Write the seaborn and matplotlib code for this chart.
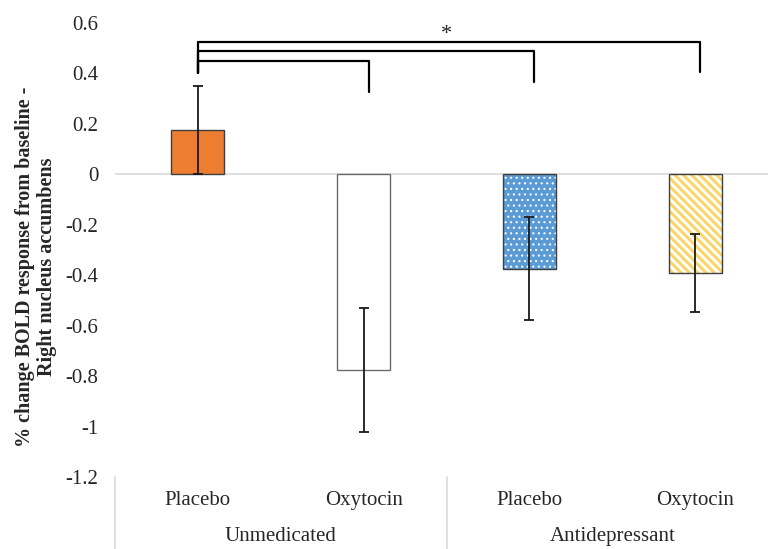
import pandas as pd
import seaborn as sns
import matplotlib.pyplot as plt
from matplotlib.patches import Rectangle
import matplotlib.transforms as mtransforms

# data
groups = ["Unmedicated", "Unmedicated", "Antidepressant", "Antidepressant"]
drugs = ["Placebo", "Oxytocin", "Placebo", "Oxytocin"]
means = [0.175, -0.776, -0.374, -0.392]
errors = [0.175, 0.245, 0.205, 0.155]
y_ticks = [0.6, 0.4, 0.2, 0, -0.2, -0.4, -0.6, -0.8, -1, -1.2]
y_label = "% change BOLD response from baseline -\nRight nucleus accumbens"

# significance brackets: (from bar, to bar, bracket height, leg bottom at target)
brackets = [(0, 3, 0.524, 0.405), (0, 2, 0.488, 0.365), (0, 1, 0.448, 0.325)]
left_leg_bottom = 0.40
star_y = 0.555

sns.set_style("white")
plt.rcParams["font.family"] = ["Liberation Serif", "DejaVu Serif"]
plt.rcParams["hatch.linewidth"] = 2.2

df = pd.DataFrame({
    "condition": [g + " " + d for g, d in zip(groups, drugs)],
    "group": groups,
    "drug": drugs,
    "mean": means,
})

fill_colors = ["#ED7D31", "#FFFFFF", "#5B9BD5", "#FFFFFF"]
hatch_colors = [None, None, "#FFFFFF", "#FBD46A"]
hatches = [None, None, "...", "\\\\\\\\"]
edge_colors = ["#3f3f3f", "#6b6b6b", "#3f3f3f", "#3f3f3f"]

fig = plt.figure(figsize=(7.68, 5.49), dpi=100)
ax = fig.add_axes([115 / 768, 1 - 477 / 549, (778 - 115) / 768, (477 - 23) / 549])

sns.barplot(data=df, x="condition", y="mean", hue="condition",
            palette=fill_colors, width=0.32, errorbar=None, legend=False, ax=ax)

bars = list(ax.patches)
for i, p in enumerate(bars):
    p.set_facecolor(fill_colors[i])
    if hatches[i]:
        p.set_hatch(hatches[i])
        p.set_edgecolor(hatch_colors[i])
        p.set_linewidth(0)
        if hasattr(p, "set_hatch_linewidth"):
            p.set_hatch_linewidth(0.8 if hatches[i] == "..." else 2.2)
    else:
        p.set_edgecolor(edge_colors[i])
        p.set_linewidth(1.0)
    if hatches[i]:
        outline = Rectangle((p.get_x(), p.get_y()), p.get_width(), p.get_height(),
                            fill=False, edgecolor=edge_colors[i], linewidth=1.0, zorder=p.get_zorder() + 0.1)
        ax.add_patch(outline)

centers = [p.get_x() + p.get_width() / 2 for p in bars]
ax.errorbar(centers, means, yerr=errors, fmt="none", ecolor="#1a1a1a",
            elinewidth=1.3, capsize=3.5, capthick=1.3, zorder=5)

ax.axhline(0, color="#d9d9d9", lw=1.2, zorder=0)

ax.set_ylim(-1.2, 0.6)
ax.set_xlim(-0.5, 3.5)
ax.set_yticks(y_ticks)
ax.set_yticklabels([f"{v:g}" for v in y_ticks])
ax.tick_params(axis="y", length=0, pad=12, labelsize=15)
ax.set_xticks(range(len(drugs)))
ax.set_xticklabels(drugs)
ax.tick_params(axis="x", length=0, pad=10, labelsize=15)
ax.set_xlabel("")
ax.set_ylabel("")
for s in ax.spines.values():
    s.set_visible(False)

# group labels and separators below the axis
trans = mtransforms.blended_transform_factory(ax.transData, ax.transAxes)
unique_groups = list(dict.fromkeys(groups))
for k, g in enumerate(unique_groups):
    idx = [i for i, gg in enumerate(groups) if gg == g]
    mid = sum(idx) / len(idx)
    ax.text(mid, -0.13, g, transform=trans, ha="center", va="center", fontsize=15)
for xsep in [-0.5, 1.5, 3.5]:
    ax.plot([xsep, xsep], [0, -0.17], transform=trans, color="#d9d9d9", lw=1.2, clip_on=False)

# significance brackets
for a, b, h, bottom in brackets:
    ax.plot([centers[a], centers[a], centers[b] + 0.03, centers[b] + 0.03],
            [left_leg_bottom, h, h, bottom], color="black", lw=1.6, zorder=6)
ax.text((centers[0] + centers[3]) / 2 + 0.0, star_y, "*", ha="center", va="center", fontsize=16)

fig.text(36 / 768, 1 - 267 / 549, y_label, rotation=90, ha="center", va="center",
         fontsize=14.5, fontweight="bold", multialignment="center", linespacing=1.15)

fig.savefig("out.png", dpi=100)
